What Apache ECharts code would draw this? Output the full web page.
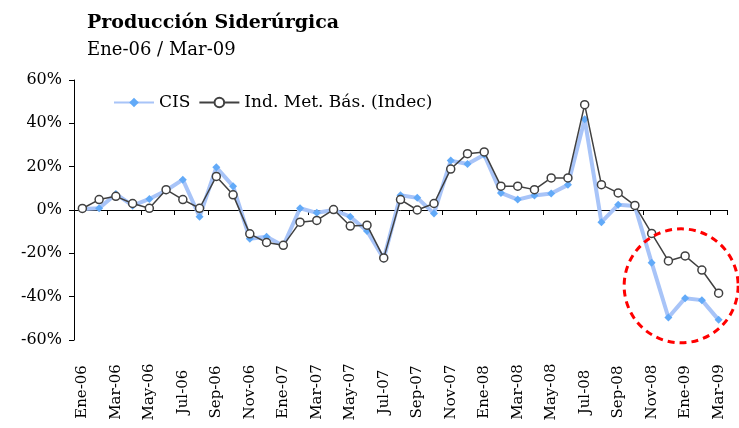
<!DOCTYPE html>
<html>
<head>
<meta charset="utf-8">
<script src="https://cdn.jsdelivr.net/npm/echarts@6/dist/echarts.min.js"></script>
<style>
  html, body { margin: 0; padding: 0; background: #fff; }
  #chart { width: 739px; height: 428px; }
</style>
</head>
<body>
<div id="chart"></div>
<script>
var months = ['Ene-06','Feb-06','Mar-06','Abr-06','May-06','Jun-06','Jul-06','Ago-06','Sep-06','Oct-06','Nov-06','Dic-06',
              'Ene-07','Feb-07','Mar-07','Abr-07','May-07','Jun-07','Jul-07','Ago-07','Sep-07','Oct-07','Nov-07','Dic-07',
              'Ene-08','Feb-08','Mar-08','Abr-08','May-08','Jun-08','Jul-08','Ago-08','Sep-08','Oct-08','Nov-08','Dic-08',
              'Ene-09','Feb-09','Mar-09'];
var cis = [0.5, 0.8, 7.4, 2, 5.1, 9, 14, -3.1, 19.7, 11, -13.3, -12.3,
           -16.5, 0.8, -1.3, 0, -3.1, -9.7, -22.5, 6.8, 5.6, -1.6, 22.8, 21.2,
           25.5, 7.9, 4.8, 6.7, 7.6, 11.6, 41.9, -5.6, 2.4, 1.8, -24.3, -49.6,
           -40.7, -41.6, -50.7];
var indec = [0.7, 4.8, 6.3, 3, 0.8, 9.4, 4.8, 0.8, 15.5, 7, -11, -15,
             -16.3, -5.6, -4.8, 0.2, -7.4, -7, -22.1, 4.8, 0, 3, 18.9, 26,
             26.8, 11, 11, 9.4, 14.8, 14.8, 48.6, 11.7, 7.9, 2.1, -10.8, -23.5,
             -21.2, -27.7, -38.4];
var seriesNames = ['CIS', 'Ind. Met. Bás. (Indec)'];

var chart = echarts.init(document.getElementById('chart'));
var serif = 'DejaVu Serif';

var option = {
  animation: false,
  backgroundColor: '#fff',
  title: {
    text: 'Producción Siderúrgica',
    subtext: 'Ene-06 / Mar-09',
    left: 82,
    top: 9,
    itemGap: 8,
    textStyle: { fontFamily: serif, fontWeight: 'bold', fontSize: 19, color: '#000' },
    subtextStyle: { fontFamily: serif, fontSize: 18, color: '#000' }
  },
  legend: {
    data: seriesNames,
    left: 108,
    top: 89,
    itemWidth: 40,
    itemHeight: 12,
    itemGap: 8,
    textStyle: { fontFamily: serif, fontSize: 17, color: '#000' }
  },
  grid: { left: 74, right: 12, top: 80, bottom: 88 },
  xAxis: [
    {
      type: 'category',
      data: months,
      position: 'bottom',
      axisLine: { show: false, onZero: false },
      axisTick: { show: false },
      axisLabel: {
        interval: 1,
        rotate: 90,
        align: 'center',
        margin: 52,
        fontFamily: serif,
        fontSize: 15,
        color: '#000'
      }
    },
    {
      type: 'category',
      data: months,
      position: 'top',
      axisLine: { show: true, onZero: true, lineStyle: { color: '#000', width: 1 } },
      axisTick: { show: true, inside: true, interval: 1, length: 5, lineStyle: { color: '#000' } },
      axisLabel: { show: false }
    }
  ],
  yAxis: {
    type: 'value',
    min: -60,
    max: 60,
    interval: 20,
    axisLine: { show: true, lineStyle: { color: '#000' } },
    axisTick: { show: true, length: 5, lineStyle: { color: '#000' } },
    splitLine: { show: false },
    axisLabel: {
      formatter: '{value}%',
      margin: 12,
      fontFamily: serif,
      fontSize: 16,
      color: '#000'
    }
  },
  series: [
    {
      name: seriesNames[0],
      type: 'line',
      data: cis,
      symbol: 'diamond',
      symbolSize: 8,
      z: 2,
      lineStyle: { color: '#a8c4f8', width: 4 },
      itemStyle: { color: '#62aaf8' }
    },
    {
      name: seriesNames[1],
      type: 'line',
      data: indec,
      symbol: 'circle',
      symbolSize: 8,
      z: 3,
      lineStyle: { color: '#404040', width: 1.5 },
      itemStyle: { color: '#fff', borderColor: '#404040', borderWidth: 1.5 }
    }
  ]
};
chart.setOption(option);

// red dashed highlight circle around the last months
var c = chart.convertToPixel({ xAxisIndex: 0, yAxisIndex: 0 }, ['Ene-09', -35]);
chart.setOption({
  graphic: [{
    type: 'circle',
    shape: { cx: c[0] - 4, cy: c[1], r: 57 },
    style: { fill: 'none', stroke: '#ff0000', lineWidth: 3, lineDash: [7, 5] },
    z: 10
  }]
});
</script>
</body>
</html>
